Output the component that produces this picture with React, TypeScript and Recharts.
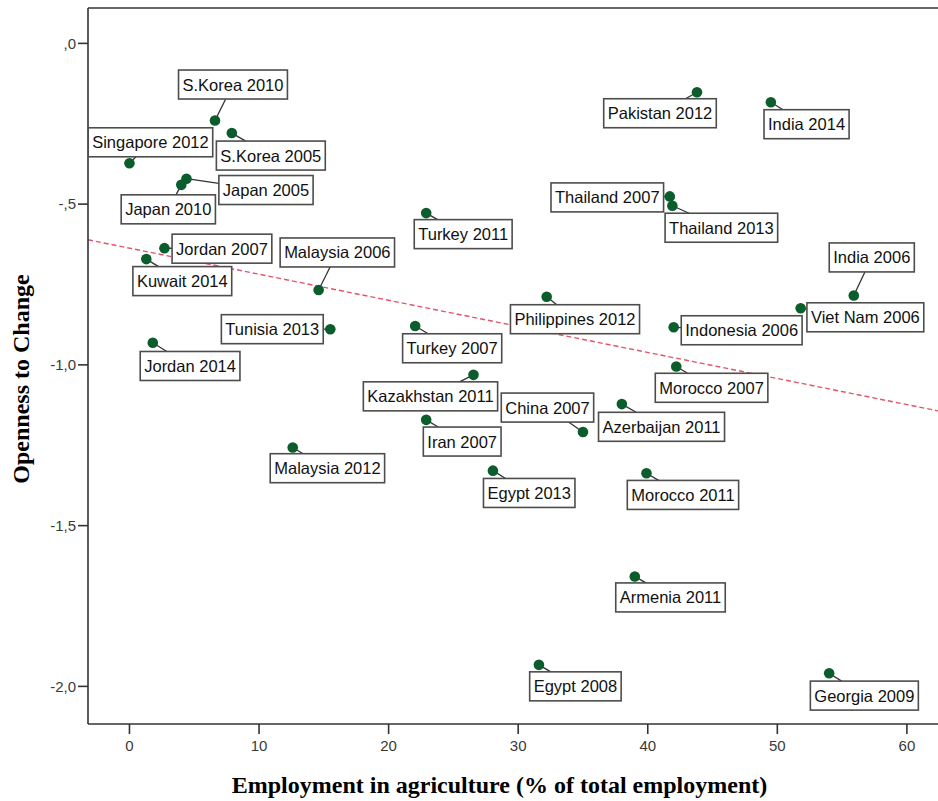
import React from 'react';
import { ScatterChart, Scatter, XAxis, YAxis, ReferenceLine, Label } from 'recharts';

// country-year labels, employment in agriculture (%), openness to change score
const names = [
  'S.Korea 2010', 'S.Korea 2005', 'Singapore 2012', 'Japan 2005', 'Japan 2010',
  'Jordan 2007', 'Kuwait 2014', 'Malaysia 2006', 'Tunisia 2013', 'Jordan 2014',
  'Turkey 2011', 'Turkey 2007', 'Pakistan 2012', 'India 2014', 'Thailand 2007',
  'Thailand 2013', 'India 2006', 'Viet Nam 2006', 'Philippines 2012', 'Indonesia 2006',
  'Morocco 2007', 'Malaysia 2012', 'Iran 2007', 'Kazakhstan 2011', 'China 2007',
  'Azerbaijan 2011', 'Egypt 2013', 'Morocco 2011', 'Armenia 2011', 'Egypt 2008',
  'Georgia 2009',
];
const agriculture = [
  6.6, 7.9, 0.0, 4.4, 4.0,
  2.7, 1.3, 14.6, 15.5, 1.8,
  22.9, 22.05, 43.8, 49.5, 41.7,
  41.9, 55.9, 51.8, 32.2, 42.0,
  42.2, 12.6, 22.9, 26.55, 35.0,
  38.0, 28.05, 39.9, 39.0, 31.6,
  54.0,
];
const openness = [
  -0.240, -0.279, -0.373, -0.421, -0.440,
  -0.637, -0.671, -0.767, -0.889, -0.931,
  -0.528, -0.879, -0.152, -0.183, -0.476,
  -0.505, -0.784, -0.824, -0.788, -0.883,
  -1.005, -1.257, -1.171, -1.031, -1.209,
  -1.122, -1.329, -1.337, -1.658, -1.933,
  -1.959,
];

const xTicks = [0, 10, 20, 30, 40, 50, 60];
const yTicks = [0, -0.5, -1, -1.5, -2];
const yTickLabels = [',0', '-,5', '-1,0', '-1,5', '-2,0'];

// fit line end points
const fitLine = [
  { x: -3.2, y: -0.611 },
  { x: 62.4, y: -1.143 },
];

const xDomain: [number, number] = [-3.2, 62.4];
const yDomain: [number, number] = [-2.117, 0.11];

// where each label box sits relative to its point (box centre, px)
const labelOffset: Record<string, [number, number]> = {
  'S.Korea 2010': [18, -36],
  'S.Korea 2005': [39, 22.5],
  'Singapore 2012': [21, -21],
  'Japan 2005': [79.5, 11.3],
  'Japan 2010': [-13, 24.5],
  'Jordan 2007': [57.5, 0.5],
  'Kuwait 2014': [36, 22],
  'Malaysia 2006': [18.7, -37.5],
  'Tunisia 2013': [-58, 0],
  'Jordan 2014': [37.3, 23.3],
  'Turkey 2011': [37, 21],
  'Turkey 2007': [37, 22.3],
  'Pakistan 2012': [-37, 21],
  'India 2014': [35.7, 22],
  'Thailand 2007': [-62.5, 1],
  'Thailand 2013': [49, 22],
  'India 2006': [18, -38],
  'Viet Nam 2006': [64.7, 9],
  'Philippines 2012': [28.3, 22.5],
  'Indonesia 2006': [68, 3],
  'Morocco 2007': [35.3, 21.3],
  'Malaysia 2012': [34.7, 20.7],
  'Iran 2007': [36, 21.7],
  'Kazakhstan 2011': [-43, 21.5],
  'China 2007': [-35.5, -24.5],
  'Azerbaijan 2011': [39.7, 22.7],
  'Egypt 2013': [36.3, 22.3],
  'Morocco 2011': [36.5, 21.7],
  'Armenia 2011': [35.7, 21],
  'Egypt 2008': [36.5, 21.5],
  'Georgia 2009': [35.2, 22.4],
};

const data = names.map((name, i) => ({ name, x: agriculture[i], y: openness[i] }));

const sansFont = '"Liberation Sans", Arial, sans-serif';
const serifFont = '"Liberation Serif", "Times New Roman", serif';
const LABEL_SIZE = 16.5;
const DOT_COLOR = '#0b5d2c';
const AXIS_COLOR = '#333';

let measureCtx: CanvasRenderingContext2D | null = null;
const textWidth = (s: string) => {
  if (!measureCtx) measureCtx = document.createElement('canvas').getContext('2d');
  if (!measureCtx) return s.length * 8.5;
  measureCtx.font = `${LABEL_SIZE}px "Liberation Sans", Arial, sans-serif`;
  return measureCtx.measureText(s).width;
};

const LabelBox = (props: any) => {
  const { cx, cy, payload } = props;
  if (cx == null || cy == null) return null;
  const [dx, dy] = labelOffset[payload.name] || [30, 20];
  const w = textWidth(payload.name) + 8;
  const h = 29;
  // leader line points at the box centre and stops at its edge
  const kx = dx !== 0 ? (Math.abs(dx) - w / 2) / Math.abs(dx) : 0;
  const ky = dy !== 0 ? (Math.abs(dy) - h / 2) / Math.abs(dy) : 0;
  const k = Math.max(0, kx, ky);
  return (
    <g>
      <line x1={cx} y1={cy} x2={cx + dx * k} y2={cy + dy * k} stroke="#333" strokeWidth={1.3} />
      <rect
        x={cx + dx - w / 2}
        y={cy + dy - h / 2}
        width={w}
        height={h}
        fill="#fff"
        stroke="#4d4d4d"
        strokeWidth={1.6}
      />
      <text
        x={cx + dx}
        y={cy + dy + 6}
        textAnchor="middle"
        fontSize={LABEL_SIZE}
        fontFamily={sansFont}
        fill="#111"
      >
        {payload.name}
      </text>
    </g>
  );
};

const Dot = (props: any) => {
  const { cx, cy } = props;
  if (cx == null || cy == null) return null;
  return <circle cx={cx} cy={cy} r={5.3} fill={DOT_COLOR} />;
};

const XTitle = (props: any) => {
  const vb = props.viewBox || { x: 88, y: 724, width: 850, height: 77 };
  return (
    <text
      x={vb.x + vb.width / 2 - 13.5}
      y={vb.y + 69}
      textAnchor="middle"
      fontSize={24}
      fontWeight="bold"
      fontFamily={serifFont}
      fill="#000"
    >
      Employment in agriculture (% of total employment)
    </text>
  );
};

const YTitle = (props: any) => {
  const vb = props.viewBox || { x: 0, y: 8, width: 88, height: 716 };
  return (
    <text
      transform={`translate(${vb.x + 29}, ${vb.y + vb.height / 2 + 13}) rotate(-90)`}
      textAnchor="middle"
      fontSize={24}
      fontWeight="bold"
      fontFamily={serifFont}
      fill="#000"
    >
      Openness to Change
    </text>
  );
};

const App: React.FC = () => {
  return (
    <div style={{ position: 'absolute', left: 0, top: 0, background: '#fff' }}>
      <ScatterChart
        width={938}
        height={801}
        margin={{ top: 8, right: 0, bottom: 0, left: 0 }}
        style={{ fontFamily: sansFont }}
      >
        <XAxis
          type="number"
          dataKey="x"
          domain={xDomain}
          ticks={xTicks}
          allowDataOverflow
          height={77}
          tickSize={10}
          tickMargin={6}
          axisLine={{ stroke: AXIS_COLOR, strokeWidth: 1.6 }}
          tickLine={{ stroke: AXIS_COLOR, strokeWidth: 1.6 }}
          tick={{ fontSize: 15, fill: '#3a3a3a', fontFamily: sansFont }}
        >
          <Label content={XTitle} />
        </XAxis>
        <YAxis
          type="number"
          dataKey="y"
          domain={yDomain}
          ticks={yTicks}
          allowDataOverflow
          width={88}
          tickSize={10}
          tickMargin={2}
          tickFormatter={(v: number) => yTickLabels[yTicks.indexOf(v)] ?? String(v)}
          axisLine={{ stroke: AXIS_COLOR, strokeWidth: 1.6 }}
          tickLine={{ stroke: AXIS_COLOR, strokeWidth: 1.6 }}
          tick={{ fontSize: 15, fill: '#3a3a3a', fontFamily: sansFont }}
        >
          <Label content={YTitle} />
        </YAxis>
        <ReferenceLine y={yDomain[1]} stroke={AXIS_COLOR} strokeWidth={1.6} ifOverflow="visible" />
        <Scatter data={data} shape={LabelBox} isAnimationActive={false} />
        <Scatter data={data} shape={Dot} isAnimationActive={false} />
        <ReferenceLine
          segment={fitLine}
          stroke="#e0556a"
          strokeWidth={1.4}
          strokeDasharray="5 3"
          ifOverflow="visible"
        />
      </ScatterChart>
    </div>
  );
};

export default App;
